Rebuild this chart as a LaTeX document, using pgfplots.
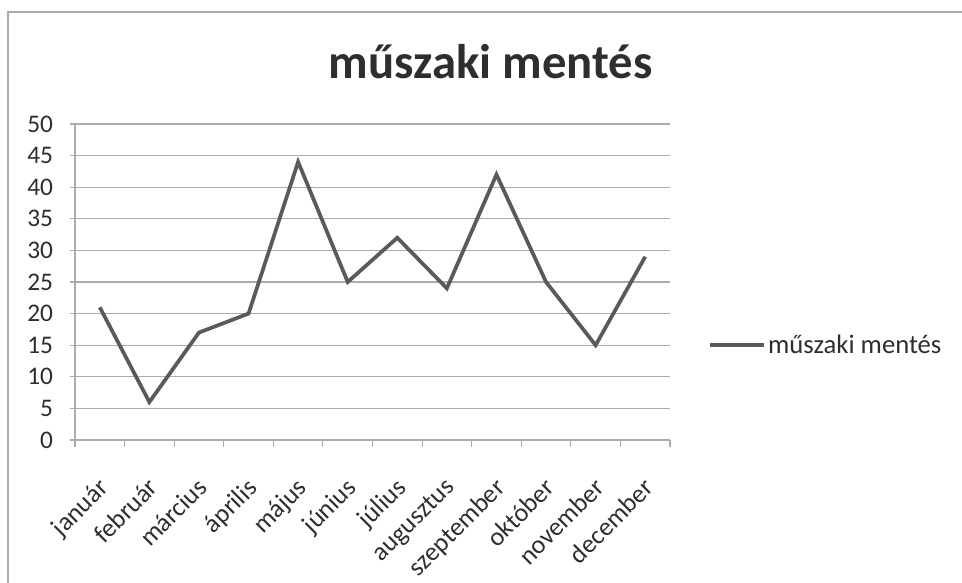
\documentclass[border=0pt]{standalone}
\usepackage{pgfplots}
\pgfplotsset{compat=1.18}
\usepackage{fontspec}
\setmainfont{Carlito}
\definecolor{linec}{HTML}{5A5A5A}
\definecolor{gridc}{HTML}{ABABAB}
\definecolor{txt}{HTML}{2E2E2E}
\begin{document}
\begin{tikzpicture}
\useasboundingbox (0pt,0pt) rectangle (721.5pt,436.5pt);
\draw[gray!65, line width=1.2pt] (6pt,-2pt) -- (6pt,427.5pt) -- (725pt,427.5pt);
\node[font=\bfseries\fontsize{36.5}{42}\selectfont, text=txt] at (368pt,390.5pt) {műszaki mentés};
\begin{axis}[
  at={(56.25pt,106.5pt)}, anchor=south west,
  scale only axis, width=446.25pt, height=237pt,
  xmin=0.5, xmax=12.5, ymin=0, ymax=50,
  axis x line=bottom, axis y line=left,
  axis line style={-, gridc, line width=0.8pt},
  xtick={1,...,12},
  xticklabels={január,február,március,április,május,június,július,augusztus,szeptember,október,november,december},
  x tick label style={rotate=45, anchor=north east, font=\fontsize{19.5}{21}\selectfont, text=txt, inner sep=1pt, xshift=-17pt, yshift=-14pt},
  major x tick style={draw=none},
  minor xtick={0.5,1.5,...,12.5},
  minor x tick style={gridc, line width=0.8pt},
  minor tick length=5pt,
  ytick={0,5,...,50},
  y tick label style={font=\fontsize{19}{21}\selectfont, text=txt, xshift=-9pt},
  major y tick style={gridc, line width=0.8pt},
  major tick length=4pt,
  tick align=outside,
  ymajorgrids, major grid style={gridc, line width=0.8pt},
  /pgf/number format/assume math mode=true,
  legend style={at={(1.064,0.30)}, anchor=west, draw=none, fill=none, font=\fontsize{20}{22}\selectfont, text=txt, inner xsep=0pt},
  legend image code/.code={\draw[#1] (0pt,0pt) -- (40pt,0pt);},
  legend cell align=left,
]
\addplot[linec, line width=2.8pt, line join=miter] coordinates {
(1,21) (2,6) (3,17) (4,20) (5,44) (6,25) (7,32) (8,24) (9,42) (10,25) (11,15) (12,29)
};
\addlegendentry{műszaki mentés}
\end{axis}
\end{tikzpicture}
\end{document}
